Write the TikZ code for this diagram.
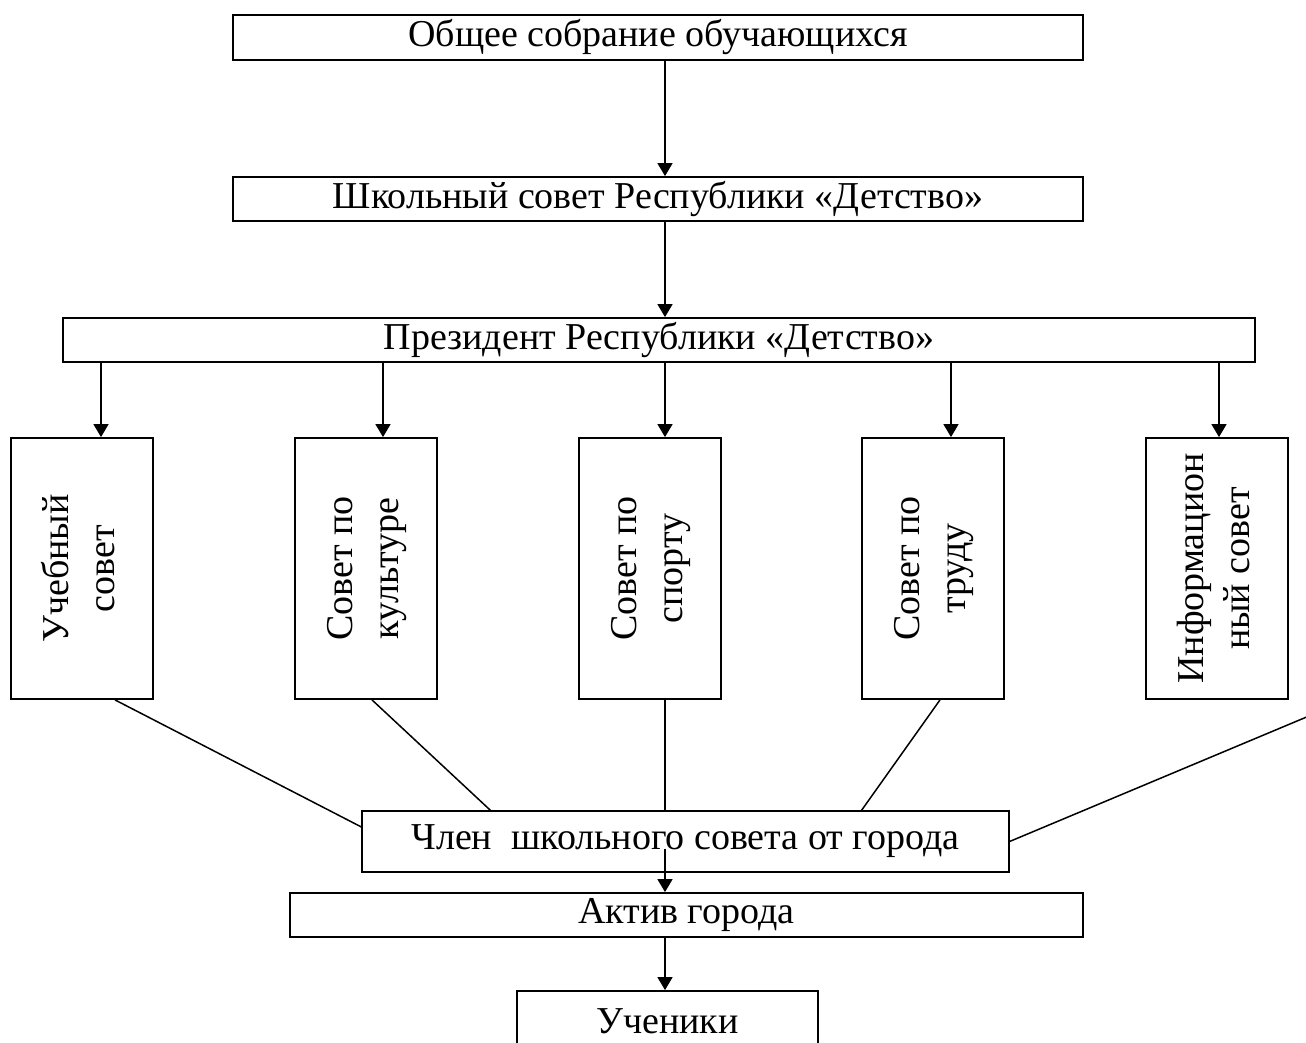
\documentclass[tikz,border=0pt]{standalone}
\usepackage{fontspec}
\setmainfont{Liberation Serif}
\usetikzlibrary{arrows.meta}
\tikzset{
  >={Triangle[length=6.5pt,width=7.5pt]},
  box/.style={draw, line width=0.9pt, fill=white, inner sep=0pt, font=\fontsize{19}{23}\selectfont},
  vbox/.style={box, minimum width=71pt, minimum height=130.5pt},
  link/.style={line width=0.75pt}
}
\newcommand{\vtext}[2]{\rotatebox{90}{\begin{tabular}{@{}c@{}}#1\\#2\end{tabular}}}
\begin{document}
\begin{tikzpicture}[x=0.5pt,y=-0.5pt]
  \useasboundingbox (0,0) rectangle (1306,1043);
  \clip (0,0) rectangle (1306,1043);
  \coordinate (spine) at (665,0);
  \coordinate (offr) at (1340,703);
  % top of the chain
  \node[box, minimum width=425pt, minimum height=22.5pt] (sobr) at (658,37.5) {Общее собрание обучающихся};
  \node[box, minimum width=425pt, minimum height=22pt] (sovet) at (658,199) {Школьный совет Республики «Детство»};
  \node[box, minimum width=596pt, minimum height=22pt] (prez) at (659,340) {Президент Республики «Детство»};
  % councils
  \node[vbox] (ucheb) at (82,568.5) {\vtext{Учебный}{совет}};
  \node[vbox] (kult) at (366,568.5) {\vtext{Совет по}{культуре}};
  \node[vbox] (sport) at (650,568.5) {\vtext{Совет по}{спорту}};
  \node[vbox] (trud) at (933,568.5) {\vtext{Совет по}{труду}};
  \node[vbox] (inform) at (1217,568.5) {\vtext{Информацион}{ный совет}};
  % bottom
  \node[box, line width=0.6pt, minimum width=323.5pt, minimum height=30.5pt] (member) at (685.5,841.5) {Член\ \ школьного совета от города};
  \node[box, minimum width=396.5pt, minimum height=22pt] (aktiv) at (686.5,915) {Актив города};
  \node[box, minimum width=150.5pt, minimum height=30pt] (pupils) at (667.5,1021) {Ученики};

  \draw[->,link] (sobr.south -| spine) -- (sovet.north -| spine);
  \draw[->,link] (sovet.south -| spine) -- (prez.north -| spine);
  \draw[->,link] ([xshift=9.5pt]ucheb.north |- prez.south) -- ([xshift=9.5pt]ucheb.north);
  \draw[->,link] ([xshift=8.5pt]kult.north |- prez.south) -- ([xshift=8.5pt]kult.north);
  \draw[->,link] (prez.south -| spine) -- (sport.north -| spine);
  \draw[->,link] ([xshift=9pt]trud.north |- prez.south) -- ([xshift=9pt]trud.north);
  \draw[->,link] ([xshift=1pt]inform.north |- prez.south) -- ([xshift=1pt]inform.north);

  \draw[link] ([xshift=16.5pt]ucheb.south) -- ([yshift=7.25pt]member.west);
  \draw[link] ([xshift=3pt]kult.south) -- ([xshift=-97.5pt]member.north);
  \draw[link] (sport.south -| spine) -- (member.north -| spine);
  \draw[link] ([xshift=3.5pt]trud.south) -- ([xshift=88pt]member.north);
  \draw[link] (offr) -- (member.east);

  \draw[->,link] ([yshift=-3.5pt]member.center -| spine) -- (aktiv.north -| spine);
  \draw[->,link] (aktiv.south -| spine) -- (pupils.north -| spine);
\end{tikzpicture}
\end{document}
